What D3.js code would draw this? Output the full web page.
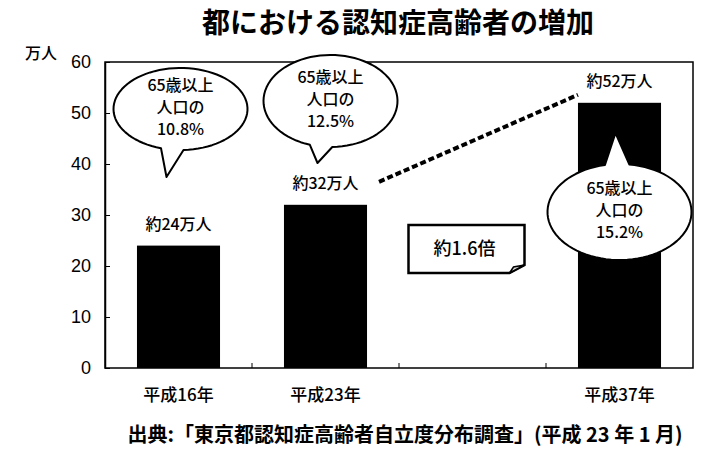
<!DOCTYPE html>
<html lang="ja">
<head>
<meta charset="utf-8" />
<title>都における認知症高齢者の増加</title>
<script src="https://d3js.org/d3.v7.min.js"></script>
<style>
  body { margin: 0; background: #fff; }
  text { font-family: "Noto Sans CJK JP", sans-serif; fill: #000; }
</style>
</head>
<body>
<div id="chart"></div>
<script>
// data
var categories = ["平成16年", "平成23年", "", "平成37年"];
var values = [24, 32, null, 52];
var shares = [10.8, 12.5, null, 15.2];   // 65歳以上人口に占める割合 (%)
var yTicks = [0, 10, 20, 30, 40, 50, 60];

var width = 704, height = 453;
// plot box (note: "top" is reserved on window, so use plot* names)
var plotL = 105, plotR = 693, plotT = 62, plotB = 368;

var svg = d3.select("#chart").append("svg")
  .attr("width", width)
  .attr("height", height);

var x = d3.scaleBand()
  .domain(categories)
  .range([plotL, plotR])
  .paddingInner(0.435)
  .paddingOuter(0.2175);

var y = d3.scaleLinear()
  .domain([0, 60])
  .range([plotB, plotT]);

// title
svg.append("text")
  .attr("x", 398).attr("y", 25)
  .attr("text-anchor", "middle")
  .attr("dominant-baseline", "middle")
  .style("font-size", "28px").style("font-weight", "bold")
  .text("都における認知症高齢者の増加");

// frame
svg.append("rect")
  .attr("x", plotL).attr("y", plotT)
  .attr("width", plotR - plotL).attr("height", plotB - plotT)
  .attr("fill", "none").attr("stroke", "#000").attr("stroke-width", 1.5);

// y axis
var yAxis = svg.append("g")
  .attr("transform", "translate(" + plotL + ",0)")
  .call(d3.axisLeft(y).tickValues(yTicks).tickSizeInner(-5).tickSizeOuter(0).tickPadding(14));
yAxis.select(".domain").attr("stroke-width", 1.5);
yAxis.selectAll("text")
  .style("font-family", "'Liberation Sans', Arial, sans-serif")
  .style("font-size", "18px");

svg.append("text")
  .attr("x", 41).attr("y", 55)
  .attr("text-anchor", "middle")
  .attr("dominant-baseline", "middle")
  .style("font-size", "16px").style("font-weight", "500")
  .text("万人");

// category boundary ticks on the bottom axis
var step = x.step();
for (var i = 1; i < categories.length; i++) {
  svg.append("line")
    .attr("x1", plotL + step * i).attr("x2", plotL + step * i)
    .attr("y1", plotB).attr("y2", plotB - 5)
    .attr("stroke", "#000");
}

// bars
var bars = categories.map(function(c, i) { return { cat: c, v: values[i], s: shares[i] }; })
  .filter(function(d) { return d.v != null; });

svg.selectAll(".bar")
  .data(bars)
  .enter().append("rect")
  .attr("class", "bar")
  .attr("x", function(d) { return x(d.cat); })
  .attr("y", function(d) { return y(d.v); })
  .attr("width", x.bandwidth())
  .attr("height", function(d) { return y(0) - y(d.v); })
  .attr("fill", "#000");

// category labels
svg.selectAll(".cat")
  .data(bars)
  .enter().append("text")
  .attr("x", function(d) { return x(d.cat) + x.bandwidth() / 2; })
  .attr("y", 396)
  .attr("text-anchor", "middle")
  .attr("dominant-baseline", "middle")
  .style("font-size", "17px").style("font-weight", "500")
  .text(function(d) { return d.cat; });

// value labels
svg.selectAll(".val")
  .data(bars)
  .enter().append("text")
  .attr("x", function(d) { return x(d.cat) + x.bandwidth() / 2; })
  .attr("y", function(d) { return y(d.v) - 20; })
  .attr("text-anchor", "middle")
  .attr("dominant-baseline", "middle")
  .style("font-size", "16px").style("font-weight", "500")
  .text(function(d) { return "約" + d.v + "万人"; });

// dashed line between 平成23年 and 平成37年
var b2 = bars[1], b3 = bars[2];
svg.append("line")
  .attr("x1", x(b2.cat) + x.bandwidth() + 12).attr("y1", y(b2.v) - 23)
  .attr("x2", x(b3.cat)).attr("y2", y(b3.v) - 8)
  .attr("stroke", "#000").attr("stroke-width", 4)
  .attr("stroke-dasharray", "6,3");

// ratio box
var bx = x("") + x.bandwidth() / 2 - 64, by = 225, bw = 116, bh = 48;
svg.append("path")
  .attr("d", "M" + bx + "," + by + "H" + (bx + bw) + "V" + (by + bh - 8) +
    "L" + (bx + bw - 15) + "," + (by + bh) + "H" + bx + "Z")
  .attr("fill", "#fff").attr("stroke", "#000").attr("stroke-width", 2.5);
svg.append("path")
  .attr("d", "M" + (bx + bw - 15) + "," + (by + bh) + "L" + (bx + bw - 11) + "," + (by + bh - 6) +
    "L" + (bx + bw) + "," + (by + bh - 8) + "Z")
  .attr("fill", "#ddd").attr("stroke", "#000").attr("stroke-width", 1.5);
svg.append("text")
  .attr("x", bx + bw / 2 - 2).attr("y", by + bh / 2 + 1)
  .attr("text-anchor", "middle")
  .attr("dominant-baseline", "middle")
  .style("font-size", "18px").style("font-weight", "500")
  .text("約" + (b3.v / b2.v).toFixed(1) + "倍");

// speech bubbles
var bubbleLayout = [
  { dx: 2, cy: 109, rx: 67, ry: 41, tx: -14, ty: 177 },
  { dx: 5, cy: 101, rx: 67, ry: 46, tx: -13, ty: 163 },
  { dx: 0, cy: 212, rx: 72, ry: 48, tx: -4, ty: 133 }
];

function bubblePath(cx, cy, rx, ry, tipX, tipY) {
  var th = Math.atan2((tipY - cy) / ry, (tipX - cx) / rx);
  var w = 0.17, pts = [];
  for (var k = 0; k <= 80; k++) {
    var a = th + w + (2 * Math.PI - 2 * w) * k / 80;
    pts.push([cx + rx * Math.cos(a), cy + ry * Math.sin(a)]);
  }
  pts.push([tipX, tipY]);
  return d3.line().curve(d3.curveLinearClosed)(pts);
}

bars.forEach(function(d, i) {
  var L = bubbleLayout[i];
  var cx = x(d.cat) + x.bandwidth() / 2 + L.dx;
  var g = svg.append("g");
  g.append("path")
    .attr("d", bubblePath(cx, L.cy, L.rx, L.ry, cx + L.tx, L.ty))
    .attr("fill", "#fff").attr("stroke", "#000").attr("stroke-width", 2)
    .attr("stroke-linejoin", "round");
  var lines = ["65歳以上", "人口の", d.s.toFixed(1) + "%"];
  g.selectAll("text")
    .data(lines)
    .enter().append("text")
    .attr("x", cx)
    .attr("y", function(t, j) { return L.cy - 22 + j * 22; })
    .attr("text-anchor", "middle")
    .attr("dominant-baseline", "middle")
    .style("font-size", "16px").style("font-weight", "500")
    .text(function(t) { return t; });
});

// source
svg.append("text")
  .attr("x", 405).attr("y", 437)
  .attr("text-anchor", "middle")
  .attr("dominant-baseline", "middle")
  .style("font-size", "20px").style("font-weight", "bold")
  .text("出典:「東京都認知症高齢者自立度分布調査」(平成 23 年 1 月)");
</script>
</body>
</html>
